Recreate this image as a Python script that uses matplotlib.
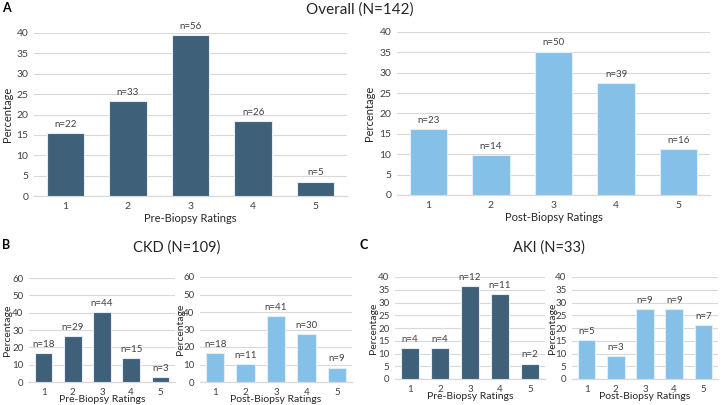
import numpy as np
import matplotlib
matplotlib.use('Agg')
import matplotlib.pyplot as plt

plt.rcParams['font.family'] = ['Lato', 'DejaVu Sans']

RATINGS = [1, 2, 3, 4, 5]

N_OVERALL = 142
OVERALL_PRE = [22, 33, 56, 26, 5]
OVERALL_POST = [23, 14, 50, 39, 16]

N_CKD = 109
CKD_PRE = [18, 29, 44, 15, 3]
CKD_POST = [18, 11, 41, 30, 9]

N_AKI = 33
AKI_PRE = [4, 4, 12, 11, 2]
AKI_POST = [5, 3, 9, 9, 7]

DARK = '#3f6079'
LIGHT = '#85c0e9'
GRID = '#d9d9d9'

W, H = 721, 405


def px_axes(fig, left, right, top, bottom):
    return fig.add_axes([left / W, 1 - bottom / H, (right - left) / W, (bottom - top) / H])


def bar_panel(ax, counts, total, color, ymax, ystep, xlabel, fs_tick, fs_n, fs_lab,
              ylab_x, xlab_pad):
    pct = np.array(counts) / total * 100
    bars = ax.bar(RATINGS, pct, width=0.6, color=color, edgecolor='#e4edf3',
                  linewidth=0.8, zorder=3)
    for b, n in zip(bars, counts):
        ax.annotate(f'n={n}', (b.get_x() + b.get_width() / 2, b.get_height()),
                    xytext=(0, 3), textcoords='offset points', ha='center',
                    va='bottom', fontsize=fs_n, color='#404040')
    ax.set_xlim(0.5, 5.5)
    ax.set_ylim(0, ymax)
    ax.set_yticks(np.arange(0, ymax + 1, ystep))
    ax.set_xticks(RATINGS)
    ax.grid(axis='y', color=GRID, linewidth=0.8, zorder=0)
    for s in ['top', 'right', 'left']:
        ax.spines[s].set_visible(False)
    ax.spines['bottom'].set_color(GRID)
    ax.spines['bottom'].set_linewidth(0.9)
    ax.tick_params(length=0, labelsize=fs_tick, colors='#404040', pad=4)
    ax.set_ylabel('Percentage', fontsize=fs_lab, color='#262626')
    ax.yaxis.set_label_coords(ylab_x, 0.5)
    if xlabel:
        ax.set_xlabel(xlabel, fontsize=fs_lab, color='#262626', labelpad=xlab_pad)


fig = plt.figure(figsize=(W / 100, H / 100), dpi=100)

# A: overall
ax = px_axes(fig, 34, 347, 33, 196)
bar_panel(ax, OVERALL_PRE, N_OVERALL, DARK, 40, 5, 'Pre-Biopsy Ratings', 7.5, 7, 8,
          -0.068, 2)
ax = px_axes(fig, 397, 710, 32, 195)
bar_panel(ax, OVERALL_POST, N_OVERALL, LIGHT, 40, 5, 'Post-Biopsy Ratings', 7.5, 7, 8,
          -0.07, 2)

# B: CKD
ax = px_axes(fig, 29, 175, 278, 382)
bar_panel(ax, CKD_PRE, N_CKD, DARK, 60, 10, 'Pre-Biopsy Ratings', 7, 7, 7.5,
          -0.116, -1)
ax = px_axes(fig, 200, 352, 277, 382)
bar_panel(ax, CKD_POST, N_CKD, LIGHT, 60, 10, 'Post-Biopsy Ratings', 7, 7, 7.5,
          -0.10, -1)

# C: AKI
ax = px_axes(fig, 395, 545, 277, 379)
bar_panel(ax, AKI_PRE, N_AKI, DARK, 40, 5, 'Pre-Biopsy Ratings', 7, 7, 7.5,
          -0.113, -1)
ax = px_axes(fig, 572, 718, 277, 379)
bar_panel(ax, AKI_POST, N_AKI, LIGHT, 40, 5, 'Post-Biopsy Ratings', 7, 7, 7.5,
          -0.10, -1)

fig.text(360 / W, 1 - 10 / H, 'Overall (N=142)', ha='center', va='center', fontsize=11,
         color='#262626')
fig.text(177 / W, 1 - 248 / H, 'CKD (N=109)', ha='center', va='center', fontsize=10.5,
         color='#262626')
fig.text(549 / W, 1 - 248 / H, 'AKI (N=33)', ha='center', va='center', fontsize=10.5,
         color='#262626')
fig.text(2 / W, 1 - 8 / H, 'A', ha='left', va='center', fontsize=9, fontweight='bold')
fig.text(2 / W, 1 - 245 / H, 'B', ha='left', va='center', fontsize=9, fontweight='bold')
fig.text(360 / W, 1 - 245 / H, 'C', ha='left', va='center', fontsize=9, fontweight='bold')

fig.savefig('out.png', dpi=100)
